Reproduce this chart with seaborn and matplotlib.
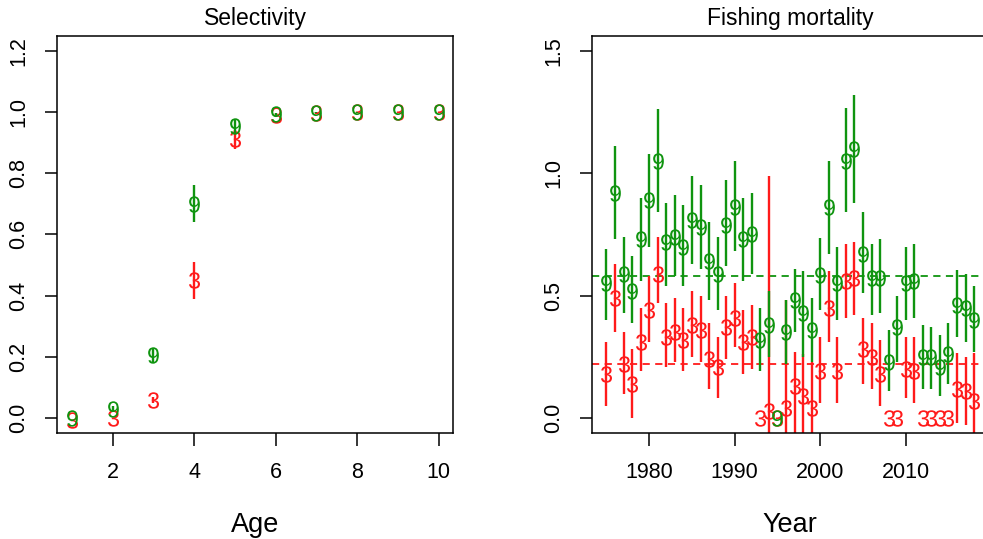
import matplotlib
matplotlib.use("Agg")
import matplotlib.pyplot as plt
import seaborn as sns
import pandas as pd

# --- selectivity by age ---
ages = [1, 2, 3, 4, 5, 6, 7, 8, 9, 10]
sel_green = [0.0, 0.03, 0.205, 0.70, 0.955, 0.993, 0.998, 0.999, 1.0, 1.0]
sel_green_lo = [0.0, 0.02, 0.18, 0.64, 0.93, 0.985, 0.995, 0.998, 1.0, 1.0]
sel_green_hi = [0.0, 0.04, 0.23, 0.76, 0.975, 0.998, 1.0, 1.0, 1.0, 1.0]
sel_red = [-0.005, 0.0, 0.06, 0.45, 0.91, 0.99, 0.997, 0.999, 1.0, 1.0]
sel_red_lo = [-0.005, 0.0, 0.05, 0.39, 0.88, 0.985, 0.995, 0.998, 1.0, 1.0]
sel_red_hi = [-0.005, 0.0, 0.07, 0.51, 0.94, 0.995, 1.0, 1.0, 1.0, 1.0]

# --- fishing mortality by year ---
years = list(range(1975, 2019))
f_green = [0.55, 0.92, 0.59, 0.52, 0.73, 0.89, 1.05, 0.72, 0.74, 0.70,
           0.81, 0.78, 0.64, 0.59, 0.79, 0.86, 0.73, 0.75, 0.32, 0.38,
           0.00, 0.35, 0.48, 0.43, 0.36, 0.585, 0.86, 0.55, 1.05, 1.10,
           0.67, 0.57, 0.57, 0.23, 0.37, 0.55, 0.56, 0.25, 0.25, 0.21,
           0.26, 0.46, 0.45, 0.40]
f_green_lo = [0.40, 0.73, 0.43, 0.39, 0.56, 0.70, 0.84, 0.54, 0.58, 0.54,
              0.63, 0.61, 0.48, 0.44, 0.62, 0.68, 0.56, 0.59, 0.19, 0.25,
              0.00, 0.22, 0.35, 0.25, 0.23, 0.44, 0.67, 0.40, 0.84, 0.88,
              0.51, 0.42, 0.43, 0.11, 0.23, 0.40, 0.41, 0.12, 0.12, 0.09,
              0.14, 0.33, 0.31, 0.27]
f_green_hi = [0.69, 1.11, 0.74, 0.66, 0.90, 1.08, 1.26, 0.88, 0.91, 0.87,
              0.99, 0.95, 0.80, 0.74, 0.97, 1.05, 0.90, 0.92, 0.45, 0.52,
              0.00, 0.48, 0.61, 0.60, 0.49, 0.735, 1.05, 0.70, 1.265, 1.32,
              0.84, 0.71, 0.73, 0.36, 0.50, 0.70, 0.71, 0.38, 0.37, 0.34,
              0.39, 0.605, 0.59, 0.54]
f_red = [0.18, 0.49, 0.22, 0.14, 0.31, 0.44, 0.59, 0.33, 0.35, 0.32,
         0.38, 0.36, 0.24, 0.21, 0.37, 0.41, 0.31, 0.33, 0.00, 0.03,
         0.00, 0.04, 0.13, 0.09, 0.04, 0.19, 0.45, 0.19, 0.56, 0.57,
         0.28, 0.25, 0.18, 0.00, 0.00, 0.20, 0.19, 0.00, 0.00, 0.00,
         0.00, 0.12, 0.11, 0.07]
f_red_lo = [0.05, 0.35, 0.10, 0.00, 0.19, 0.31, 0.47, 0.21, 0.23, 0.19,
            0.25, 0.23, 0.12, 0.08, 0.24, 0.29, 0.18, 0.20, 0.00, -0.20,
            0.00, -0.20, -0.10, -0.10, -0.15, 0.06, 0.31, 0.06, 0.41, 0.42,
            0.14, 0.12, 0.05, 0.00, 0.00, 0.08, 0.06, 0.00, 0.00, 0.00,
            0.00, -0.02, -0.03, -0.12]
f_red_hi = [0.31, 0.63, 0.35, 0.28, 0.45, 0.58, 0.74, 0.47, 0.49, 0.45,
            0.52, 0.50, 0.39, 0.33, 0.50, 0.55, 0.44, 0.46, 0.00, 0.99,
            0.00, 0.48, 0.27, 0.26, 0.23, 0.33, 0.60, 0.33, 0.71, 0.72,
            0.41, 0.39, 0.32, 0.00, 0.00, 0.33, 0.33, 0.00, 0.00, 0.00,
            0.00, 0.265, 0.25, 0.265]
f_ref_green = 0.58
f_ref_red = 0.222

GREEN = "#0f940f"
RED = "#ff1a1a"

plt.rcParams["font.family"] = ["Liberation Sans", "DejaVu Sans"]
plt.rcParams["mathtext.fontset"] = "custom"
plt.rcParams["mathtext.rm"] = "Liberation Sans"
plt.rcParams["mathtext.it"] = "Liberation Sans"

sel = pd.DataFrame({"age": ages, "g": sel_green, "g_lo": sel_green_lo,
                    "g_hi": sel_green_hi, "r": sel_red, "r_lo": sel_red_lo,
                    "r_hi": sel_red_hi})
fm = pd.DataFrame({"year": years, "g": f_green, "g_lo": f_green_lo,
                   "g_hi": f_green_hi, "r": f_red, "r_lo": f_red_lo,
                   "r_hi": f_red_hi})

fig = plt.figure(figsize=(9.83, 5.39), dpi=100)
ax1 = fig.add_axes([0.0583, 0.1972, 0.4029, 0.736])
ax2 = fig.add_axes([0.602, 0.1972, 0.4039, 0.736])


def draw_panel(ax, df, xcol):
    ax.vlines(df[xcol], df["r_lo"], df["r_hi"], color=RED, lw=1.7, zorder=2)
    sns.scatterplot(data=df, x=xcol, y="r", marker="$3$", s=140, color=RED,
                    linewidth=0, ax=ax, zorder=3)
    ax.vlines(df[xcol], df["g_lo"], df["g_hi"], color=GREEN, lw=1.7, zorder=4)
    sns.scatterplot(data=df, x=xcol, y="g", marker="$9$", s=140, color=GREEN,
                    linewidth=0, ax=ax, zorder=5)


draw_panel(ax1, sel, "age")
draw_panel(ax2, fm, "year")

ax2.axhline(f_ref_green, color=GREEN, lw=1.3, ls=(0, (4, 3)), zorder=1)
ax2.axhline(f_ref_red, color=RED, lw=1.3, ls=(0, (4, 3)), zorder=1)

ax1.set_xlim(0.64, 10.36)
ax1.set_ylim(-0.048, 1.248)
ax1.set_xticks([2, 4, 6, 8, 10])
ax1.set_yticks([0.0, 0.2, 0.4, 0.6, 0.8, 1.0, 1.2])
ax1.set_yticklabels(["0.0", "0.2", "0.4", "0.6", "0.8", "1.0", "1.2"])

ax2.set_xlim(1973.28, 2019.72)
ax2.set_ylim(-0.06, 1.56)
ax2.set_xticks([1980, 1990, 2000, 2010])
ax2.set_yticks([0.0, 0.5, 1.0, 1.5])
ax2.set_yticklabels(["0.0", "0.5", "1.0", "1.5"])

for ax, title, xl in [(ax1, "Selectivity", "Age"), (ax2, "Fishing mortality", "Year")]:
    ax.set_title(title, fontsize=16.5, pad=8)
    ax.set_xlabel(xl, fontsize=19.5, labelpad=21)
    ax.set_ylabel("")
    for s in ax.spines.values():
        s.set_linewidth(1.1)
        s.set_color("black")
    ax.tick_params(axis="both", length=9, width=1.1, labelsize=15.5)
    ax.tick_params(axis="x", pad=12)
    ax.tick_params(axis="y", pad=11, labelrotation=90)
    for lab in ax.get_yticklabels():
        lab.set_va("center")

fig.savefig("out.png", dpi=100)
